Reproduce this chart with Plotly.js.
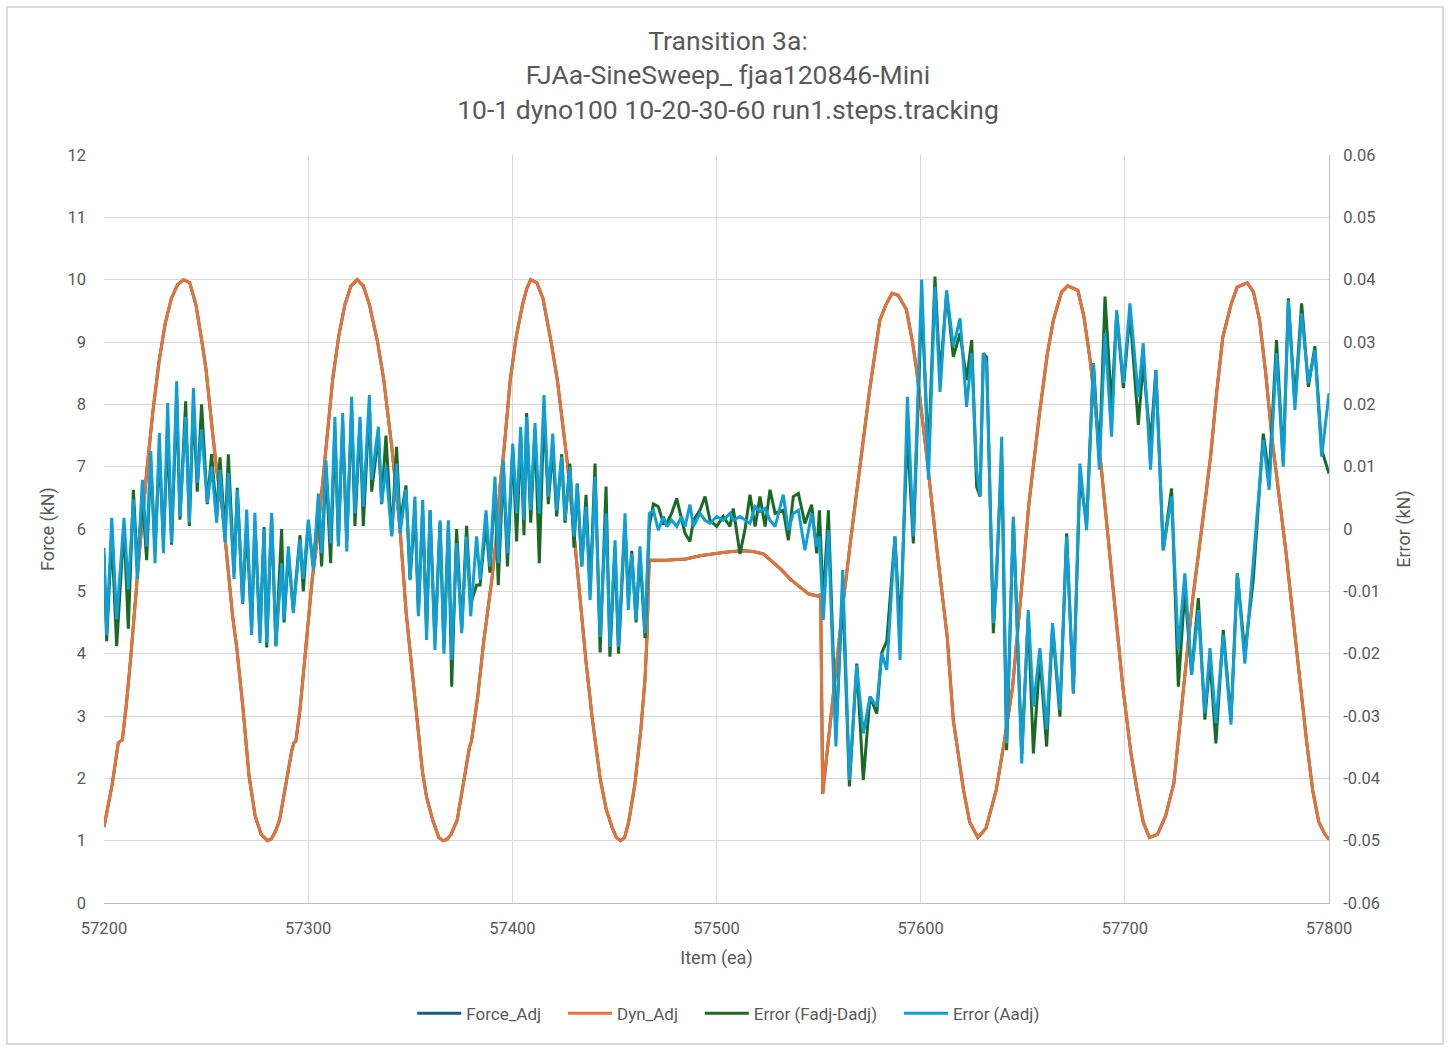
<!DOCTYPE html>
<html>
<head>
<meta charset="utf-8">
<script src="https://cdn.plot.ly/plotly-3.0.1.min.js"></script>
<style>
  html, body { margin: 0; padding: 0; background: #fff; }
  #graph { width: 1456px; height: 1055px; }
</style>
</head>
<body>
<div id="graph"></div>
<script>
// Dyn_Adj (kN), left axis
const dynItem = [
    57200, 57204, 57207, 57209, 57211, 57213, 57217, 57221, 57224, 57227, 57230, 57233, 57236, 57239,
    57242, 57245, 57248, 57250, 57253, 57255, 57258, 57261, 57263, 57265, 57268, 57271, 57274, 57277,
    57280, 57282, 57284, 57286, 57289, 57292, 57293, 57294, 57296, 57299, 57302, 57304, 57307, 57309,
    57312, 57315, 57318, 57321, 57324, 57327, 57330, 57334, 57337, 57341, 57345, 57348, 57351, 57353,
    57356, 57358, 57361, 57364, 57366, 57368, 57370, 57373, 57376, 57379, 57380, 57383, 57386, 57390,
    57392, 57394, 57396, 57399, 57402, 57405, 57407, 57409, 57412, 57415, 57419, 57422, 57427, 57430,
    57433, 57436, 57439, 57443, 57446, 57449, 57451, 57453, 57455, 57457, 57460, 57463, 57465, 57466,
    57467, 57475, 57485, 57492, 57498, 57505, 57513, 57518, 57523, 57527, 57532, 57536, 57541, 57545,
    57550, 57551, 57552, 57555, 57558, 57562, 57566, 57570, 57575, 57580, 57583, 57586, 57589, 57593,
    57596, 57598, 57603, 57608, 57613, 57616, 57621, 57624, 57628, 57632, 57637, 57641, 57645, 57649,
    57653, 57658, 57662, 57665, 57669, 57672, 57677, 57680, 57683, 57686, 57689, 57694, 57699, 57703,
    57706, 57709, 57712, 57716, 57720, 57724, 57728, 57733, 57738, 57742, 57745, 57748, 57752, 57755,
    57760, 57763, 57766, 57769, 57772, 57776, 57779, 57783, 57786, 57789, 57792, 57795, 57798, 57800
];
const dynAdj = [
    1.22, 1.9, 2.57, 2.62, 3.2, 3.9, 5.5, 6.95, 7.9, 8.7, 9.3, 9.7, 9.92, 10.0,
    9.95, 9.6, 9.0, 8.55, 7.6, 7.0, 6.3, 5.3, 4.6, 4.1, 3.15, 2.05, 1.4, 1.1,
    1.0, 1.03, 1.15, 1.33, 1.9, 2.45, 2.57, 2.6, 3.1, 4.1, 5.2, 5.7, 6.7, 7.3,
    8.4, 9.1, 9.6, 9.9, 10.0, 9.9, 9.6, 9.0, 8.4, 7.3, 6.0, 4.65, 3.7, 3.0,
    2.1, 1.7, 1.33, 1.05, 1.0, 1.02, 1.1, 1.33, 1.9, 2.5, 2.6, 3.3, 4.2, 5.2,
    5.8, 6.7, 7.3, 8.4, 9.1, 9.6, 9.85, 10.0, 9.95, 9.7, 9.0, 8.4, 7.05, 6.0,
    4.9, 3.9, 3.0, 2.0, 1.5, 1.2, 1.05, 1.0, 1.05, 1.3, 1.9, 2.8, 3.6, 4.3,
    5.5, 5.5, 5.52, 5.57, 5.6, 5.63, 5.65, 5.64, 5.6, 5.48, 5.34, 5.2, 5.07, 4.96,
    4.92, 4.95, 1.75, 2.67, 3.6, 4.81, 5.9, 6.95, 8.23, 9.35, 9.6, 9.78, 9.75, 9.52,
    9.0, 8.55, 7.16, 5.66, 4.27, 2.93, 1.81, 1.3, 1.05, 1.2, 1.81, 2.6, 3.46, 4.9,
    6.4, 7.8, 8.8, 9.35, 9.8, 9.9, 9.83, 9.4, 8.71, 7.8, 6.83, 5.13, 3.47, 2.4,
    1.81, 1.3, 1.05, 1.1, 1.4, 1.92, 3.2, 4.81, 6.1, 7.16, 8.2, 9.08, 9.6, 9.88,
    9.95, 9.8, 9.35, 8.5, 7.48, 6.4, 5.61, 4.4, 3.47, 2.6, 1.81, 1.3, 1.1, 1.02
];
// Force_Adj lies exactly under Dyn_Adj in the picture
const forceAdj = dynAdj.slice();

// error series (kN), right axis, read at the peaks and troughs of the traces
const errItem = [
    57200, 57201.3, 57203.8, 57206.2, 57209.8, 57211.9, 57214.4, 57216.3, 57218.8, 57220.9, 57222.9, 57225,
    57227.1, 57229.1, 57231.2, 57233.1, 57235.6, 57237.2, 57240, 57241.8, 57243.8, 57245.7, 57247.8, 57250.6,
    57252.7, 57255.2, 57256.8, 57259.3, 57260.9, 57263.7, 57265.3, 57267.9, 57269.9, 57272.3, 57273.9, 57276.4,
    57278.4, 57279.7, 57282.1, 57284.2, 57287, 57288.2, 57290.3, 57292.7, 57296, 57297.6, 57300.1,
    57302.5, 57305, 57306.6, 57308.7, 57311, 57313.1, 57314.8, 57316.9, 57318.9, 57321.3, 57322.9, 57325.4,
    57327, 57330, 57331.1, 57334.4, 57336, 57338.1, 57340.9, 57343.3, 57345, 57347.9, 57349.9, 57352.3,
    57354, 57356.1, 57358, 57359.7, 57362.1, 57364.6, 57366.5, 57368.7, 57370.3, 57372.7, 57375.2, 57377.6,
    57379.6, 57382.5, 57384.2, 57387.1, 57389, 57391.5, 57393.1,
    57395.6, 57397.6, 57400.2, 57402.1, 57404.1, 57405.7, 57407, 57409, 57411.1, 57413.2, 57415.5, 57417.6,
    57419.8, 57421.7, 57424.2, 57425.8, 57428.2, 57430.2, 57431.8, 57434, 57436.1, 57438.1, 57440.5, 57443,
    57445.9, 57447.8, 57450.3, 57452, 57455.2, 57456.8, 57458.5, 57460.6, 57462.5, 57465, 57467.1,
    57469.1, 57471.5, 57474, 57475.6, 57478, 57480.5, 57482.9, 57484.6, 57487, 57488.7, 57491.9, 57494.4,
    57496.8, 57500.1, 57503.3, 57506.6, 57508.2, 57511.5, 57514, 57516.4, 57518.9, 57521.3, 57523.8, 57526.2,
    57528.7, 57532.7, 57535.2, 57537.6, 57540.1, 57543.3, 57546.6, 57549.1, 57550.4,
    57552.3, 57554.8, 57558.5, 57561.8, 57565.1, 57568.7, 57571.9, 57575.2, 57578.5, 57580.9, 57583.4, 57587.4,
    57589.9, 57593.5, 57596.4, 57600.5, 57603.8, 57607, 57609.5, 57612.7, 57616, 57619.3, 57622.5, 57625,
    57627.4, 57629.1, 57630.7,
    57632.3, 57635.6, 57637.2, 57639.7, 57642.1, 57645.4, 57649.5, 57652.7, 57655.2, 57658.4, 57661.7, 57664.6,
    57668.2, 57671.5, 57674.8, 57678, 57681.3, 57684.6, 57687.5, 57690.3, 57693.5, 57696, 57699.3, 57702.5,
    57706.6, 57709, 57712.6, 57715.2,
    57718.8, 57722.9, 57726.2, 57729.4, 57732.7, 57736, 57739.2, 57741.7, 57744.6, 57748.2, 57752, 57755.1,
    57758.8, 57762.9, 57767.8, 57770.7, 57774.3, 57777.6, 57780.1, 57783.3, 57786.6, 57789.9, 57793.1, 57796.4,
    57800
];
const errFadj = [
    -0.004, -0.018, -0.001, -0.0188, 0.0005, -0.016, 0.0063, -0.006, 0.005, -0.005, 0.011, -0.0035,
    0.0125, -0.002, 0.015, -0.0025, 0.021, 0.0015, 0.0205, 0.0005, 0.02, 0.006, 0.02, 0.004,
    0.012, 0.002, 0.0115, -0.001, 0.012, -0.007, 0.0066, -0.012, 0.0005, -0.016, 0.001, -0.017,
    0.0003, -0.019, 0.002, -0.0188, 0, -0.015, -0.004, -0.013, -0.001, -0.01, 0.001,
    -0.006, 0.004, -0.006, 0.01, -0.0055, 0.016, -0.002, 0.017, -0.002, 0.019, 0.0005, 0.017,
    0.0005, 0.02, 0.006, 0.015, 0.004, 0.015, -0.001, 0.0132, 0.001, 0.007, -0.008, 0.003,
    -0.0135, 0.003, -0.0165, 0.003, -0.018, 0.001, -0.019, 0.001, -0.0253, 0, -0.016, 0.0005,
    -0.012, -0.009, -0.009, 0.001, -0.007, 0.007, -0.009,
    0.01, -0.006, 0.013, -0.002, 0.015, -0.001, 0.0186, 0.001, 0.016, -0.0055, 0.019, 0.004,
    0.013, 0.002, 0.012, 0.001, 0.0105, -0.003, 0.0073, -0.006, 0.0055, -0.01, 0.0105, -0.0198,
    0.0068, -0.0205, -0.003, -0.02, 0.001, -0.011, -0.0035, -0.015, -0.004, -0.0175, 0.0005,
    0.004, 0.0036, 0.0009, 0.0009, 0.0025, 0.0049, 0.0014, -0.0007, -0.002, 0.0014, 0.003, 0.0052,
    0.0014, 0.0004, 0.002, 0.0004, 0.0033, -0.004, 0.0, 0.0055, 0.0004, 0.0052, 0.0004, 0.0063,
    0.0025, 0.003, -0.0018, 0.0052, 0.0057, 0.0009, 0.0039, -0.0039, 0.003,
    -0.0119, 0.003, -0.033, -0.0098, -0.0413, -0.0216, -0.0403, -0.0269, -0.0296, -0.0199, -0.018, -0.0012,
    -0.0162, 0.0153, -0.0023, 0.0367, 0.0116, 0.0405, 0.0244, 0.0378, 0.0276, 0.0314, 0.0239, 0.0303,
    0.0068, 0.0052, 0.0282,
    0.0276, -0.0167, -0.0066, 0.0116, -0.0355, 0.0017, -0.036, -0.0141, -0.036, -0.0205, -0.0349, -0.0157,
    -0.0301, -0.0007, -0.0264, 0.0084, 0.0009, 0.0266, 0.0111, 0.0373, 0.0196, 0.0346, 0.0226, 0.0346,
    0.0167, 0.0266, 0.0137, 0.0255,
    -0.0034, 0.0065, -0.0253, -0.0098, -0.0232, -0.0111, -0.0306, -0.021, -0.0344, -0.0162, -0.0306, -0.0071,
    -0.0199, -0.0082, 0.0153, 0.0084, 0.0303, 0.0105, 0.037, 0.0202, 0.0362, 0.0228, 0.0293, 0.0127,
    0.0089
];
const errAadj = [
    -0.003, -0.017, 0.0018, -0.0145, 0.0018, -0.0097, 0.0047, -0.008, 0.0079, -0.0028, 0.0125, -0.0055,
    0.0154, -0.0039, 0.0202, -0.0022, 0.0237, 0.002, 0.018, 0.001, 0.0226, 0.0074, 0.016, 0.0042,
    0.01, 0.001, 0.0095, -0.0022, 0.009, -0.008, 0.0063, -0.0119, 0.0031, -0.017, 0.0026, -0.0183,
    0, -0.0183, 0.0026, -0.0188, -0.0055, -0.0145, -0.0028, -0.0135, -0.0017, -0.008, 0.0015,
    -0.0066, 0.0057, -0.0039, 0.011, -0.0023, 0.018, -0.0028, 0.0186, -0.0036, 0.0212, 0.0025, 0.018,
    0.0036, 0.0215, 0.0079, 0.0164, 0.0041, 0.01, -0.0012, 0.0105, -0.0007, 0.0063, -0.0082, 0.0052,
    -0.014, 0.0047, -0.0178, 0.003, -0.0194, 0.0014, -0.02, 0.0014, -0.021, -0.0023, -0.0167, -0.0012,
    -0.014, -0.0012, -0.0082, 0.003, -0.006, 0.0084, -0.0055,
    0.011, -0.0039, 0.0137, 0.0025, 0.0164, 0.0014, 0.018, 0.003, 0.017, 0.0025, 0.0215, 0.0052,
    0.0153, 0.003, 0.0116, 0.0014, 0.01, -0.0012, 0.0073, -0.006, 0.0036, -0.0114, 0.0084, -0.0173,
    0.0025, -0.0189, -0.0018, -0.0189, 0.0025, -0.013, -0.0039, -0.0146, -0.0028, -0.0167, 0.0025,
    0.003, -0.0002, 0.002, 0.0004, 0.0014, 0.0004, 0.002, 0.0004, 0.0039, 0.0004, 0.0025, 0.0014,
    0.0009, 0.002, 0.0014, 0.0025, 0.0014, 0.002, 0.0014, 0.0009, 0.0036, 0.0028, 0.0033, 0.0014,
    0.0004, 0.0055, -0.0002, 0.0025, 0.003, -0.0034, 0.0025, -0.0028, -0.0012,
    -0.0146, -0.0002, -0.0349, -0.0066, -0.0403, -0.0218, -0.0328, -0.0269, -0.0285, -0.0199, -0.0226, -0.0012,
    -0.021, 0.0212, -0.0012, 0.04, 0.0079, 0.0389, 0.022, 0.0383, 0.0293, 0.0338, 0.0196, 0.0282,
    0.0095, 0.0052, 0.0282,
    0.0266, -0.0151, -0.0082, 0.0148, -0.0344, 0.002, -0.0376, -0.013, -0.0285, -0.0191, -0.0322, -0.0151,
    -0.029, -0.0012, -0.0264, 0.0105, -0.0002, 0.0266, 0.0095, 0.0314, 0.0148, 0.0351, 0.0234, 0.0362,
    0.0212, 0.0298, 0.0095, 0.0255,
    -0.0034, 0.0052, -0.0194, -0.0071, -0.0234, -0.013, -0.0296, -0.0191, -0.0312, -0.017, -0.0314, -0.0071,
    -0.0216, -0.005, 0.0143, 0.0063, 0.0282, 0.01, 0.0367, 0.0191, 0.0346, 0.0234, 0.0287, 0.0116,
    0.0218
];

// right axis tick labels (Excel shows plain "0" at zero)
const errTickVals = [-0.06, -0.05, -0.04, -0.03, -0.02, -0.01, 0, 0.01, 0.02, 0.03, 0.04, 0.05, 0.06];
const errTickText = ['-0.06', '-0.05', '-0.04', '-0.03', '-0.02', '-0.01', '0', '0.01', '0.02', '0.03', '0.04', '0.05', '0.06'];

const textColor = '#595959';
const gridColor = '#d9d9d9';
const baseFont = 'Roboto, "Liberation Sans", Arial, sans-serif';
const pad = '\u00a0\u00a0\u00a0\u00a0'; // extra room between legend entries, like Excel

const traces = [
    {
        x: dynItem, y: forceAdj, name: 'Force_Adj' + pad, type: 'scatter', mode: 'lines',
        line: { color: '#156082', width: 3 }, yaxis: 'y', hoverinfo: 'none'
    },
    {
        x: dynItem, y: dynAdj, name: 'Dyn_Adj' + pad, type: 'scatter', mode: 'lines',
        line: { color: '#E97132', width: 3 }, yaxis: 'y', hoverinfo: 'none'
    },
    {
        x: errItem, y: errFadj, name: 'Error (Fadj-Dadj)' + pad, type: 'scatter', mode: 'lines',
        line: { color: '#196B24', width: 3 }, yaxis: 'y2', hoverinfo: 'none'
    },
    {
        x: errItem, y: errAadj, name: 'Error (Aadj)', type: 'scatter', mode: 'lines',
        line: { color: '#0F9ED5', width: 3 }, yaxis: 'y2', hoverinfo: 'none'
    }
];

const layout = {
    width: 1456,
    height: 1055,
    paper_bgcolor: '#ffffff',
    plot_bgcolor: '#ffffff',
    margin: { l: 104, r: 127, t: 155, b: 152 },
    font: { family: baseFont, color: textColor, size: 16 },
    title: {
        text: 'Transition 3a:<br>FJAa-SineSweep_ fjaa120846-Mini<br>10-1 dyno100 10-20-30-60 run1.steps.tracking',
        font: { family: baseFont, size: 26.5, color: textColor },
        x: 0.5, xanchor: 'center',
        y: 1 - 50 / 1055, yref: 'container', yanchor: 'middle'
    },
    xaxis: {
        range: [57200, 57800],
        dtick: 100,
        tick0: 57200,
        tickformat: 'd',
        showgrid: true,
        gridcolor: gridColor,
        gridwidth: 1,
        zeroline: false,
        showline: true,
        linecolor: '#bfbfbf',
        linewidth: 1,
        ticks: '',
        ticklabelstandoff: 10,
        tickfont: { size: 16.5, color: textColor },
        title: { text: 'Item (ea)', font: { size: 18, color: textColor }, standoff: 14 }
    },
    yaxis: {
        range: [0, 12],
        dtick: 1,
        showgrid: true,
        gridcolor: gridColor,
        gridwidth: 1,
        zeroline: false,
        showline: false,
        ticks: '',
        ticklabelstandoff: 17,
        tickfont: { size: 16.5, color: textColor },
        title: { text: 'Force (kN)', font: { size: 18, color: textColor }, standoff: 8 }
    },
    yaxis2: {
        range: [-0.06, 0.06],
        overlaying: 'y',
        side: 'right',
        tickvals: errTickVals,
        ticktext: errTickText,
        showgrid: false,
        zeroline: false,
        showline: true,
        linecolor: '#bfbfbf',
        linewidth: 1,
        ticks: '',
        ticklabelstandoff: 10,
        tickfont: { size: 16.5, color: textColor },
        title: { text: 'Error (kN)', font: { size: 18, color: textColor }, standoff: 18 }
    },
    showlegend: true,
    legend: {
        orientation: 'h',
        x: 0.51, xanchor: 'center',
        y: -0.148, yanchor: 'middle',
        itemwidth: 44,
        font: { size: 17, color: textColor },
        bgcolor: 'rgba(0,0,0,0)'
    },
    shapes: [
        {
            type: 'rect', xref: 'paper', yref: 'paper',
            x0: -0.0792, x1: 1.0931, y0: -0.1885, y1: 1.1979,
            line: { color: '#d0d0d0', width: 1.5 }, fillcolor: 'rgba(0,0,0,0)', layer: 'below'
        }
    ]
};

const config = { staticPlot: true, displayModeBar: false };

Plotly.newPlot('graph', traces, layout, config);
</script>
</body>
</html>
